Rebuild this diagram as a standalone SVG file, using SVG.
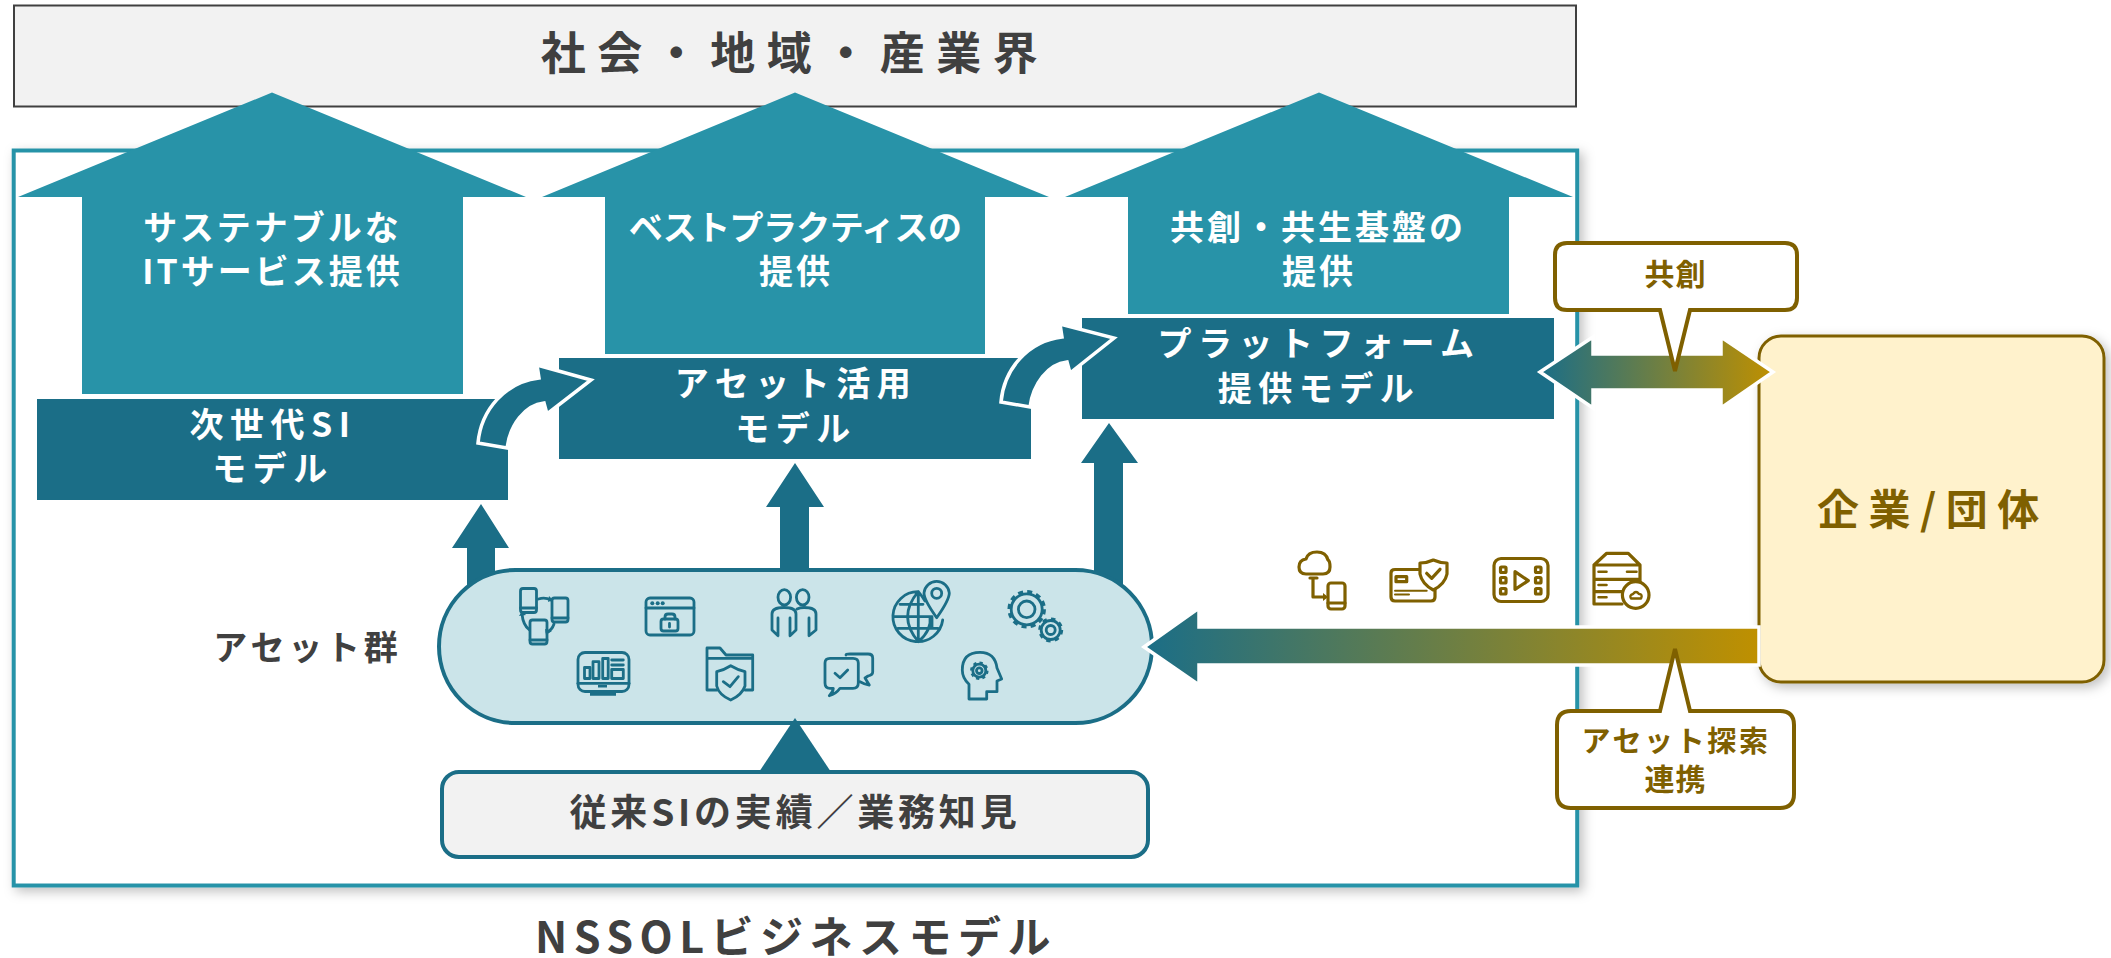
<svg xmlns="http://www.w3.org/2000/svg" width="2111" height="958" viewBox="0 0 2111 958">
<style>
text{font-family:"Noto Sans CJK JP","Noto Sans",sans-serif;font-weight:700;text-anchor:middle}
.w{fill:#fff;font-size:34px;letter-spacing:3px}
.m{fill:#fff;font-size:34px;letter-spacing:6.500px}
.d{fill:#404040}
.g{fill:#7f6000}
.lt{fill:#2893a8}
.dk{fill:#1b6e87}
.ic{fill:none;stroke:#1b6e87;stroke-width:2.800;stroke-linejoin:round;stroke-linecap:round}
.ig{fill:none;stroke:#7f6000;stroke-width:3.200;stroke-linejoin:round;stroke-linecap:round}
.fb{fill:#1b6e87;stroke:none}
.fg{fill:#7f6000;stroke:none}
</style>
<defs>
<linearGradient id="gr1" x1="0" x2="1" y1="0" y2="0"><stop offset="0" stop-color="#1b6e87"/><stop offset="1" stop-color="#bf9000"/></linearGradient>
<filter id="sh" x="-5%" y="-5%" width="110%" height="110%"><feDropShadow dx="4" dy="4" stdDeviation="6" flood-color="#000" flood-opacity=".25"/></filter>
</defs>
<g id="top-bar"><rect x="14" y="5.500" width="1562" height="101" fill="#f2f2f2" stroke="#404040" stroke-width="2"/><text class="d" x="795" y="70" style="font-size:45px;letter-spacing:11.500px">社会・地域・産業界</text></g>
<g id="frame"><rect x="13.700" y="150.500" width="1563.500" height="735" fill="#fff" stroke="#2893a8" stroke-width="4" filter="url(#sh)"/></g>
<g id="up-1"><path class="lt" d="M272 92.500L526 197H463V394H82V197H18Z"/><text class="w" x="272.500" y="240">サステナブルな</text><text class="w" x="272.500" y="284">ITサービス提供</text></g>
<g id="up-2"><path class="lt" d="M795 92.500L1049 197H985V354H605V197H542Z"/><text x="795" y="240" style="fill:#fff;font-size:34px;letter-spacing:-.6px">ベストプラクティスの</text><text class="w" x="796" y="284">提供</text></g>
<g id="up-3"><path class="lt" d="M1319 92.500L1573 197H1509V314H1128V197H1065Z"/><text class="w" x="1318" y="240">共創・共生基盤の</text><text class="w" x="1319" y="284">提供</text></g>
<g id="model-1"><rect class="dk" x="37" y="399" width="471" height="101"/><text class="m" x="273" y="437">次世代SI</text><text class="m" x="273" y="481">モデル</text></g>
<g id="model-2"><rect class="dk" x="559" y="358" width="472" height="101"/><text class="m" x="796" y="396">アセット活用</text><text class="m" x="796" y="441">モデル</text></g>
<g id="model-3"><rect class="dk" x="1082" y="318" width="472" height="101"/><text class="m" x="1319" y="356">プラットフォーム</text><text class="m" x="1319" y="401">提供モデル</text></g>
<g id="connectors">
<g id="curves" fill="#1b6e87" stroke="#fff" stroke-width="3.500">
<path d="M478 443C481 410 505 382 539 378L537 365L591 380L547 414L544 403C525 405 510 425 507 448Z"/>
<path d="M1001 402C1004 369 1028 341 1062 337L1060 324L1114 338L1070 373L1067 362C1048 364 1033 384 1030 407Z"/>
</g>
<path class="dk" d="M481 504L509 548H495V600H467V548H452Z"/>
<path class="dk" d="M795 463L824 507H809V580H780V507H766Z"/>
<path class="dk" d="M1109 423L1138 463H1123V600H1094V463H1081Z"/>
</g>
<g id="assets">
<rect x="439" y="570" width="713" height="153" rx="76.500" fill="#cbe4e9" stroke="#1b6e87" stroke-width="4"/>
<g id="icon-devices" class="ic">
<rect x="520.500" y="588.500" width="16" height="24" rx="2.500"/><path d="M520.500 608H536.500"/>
<rect x="552" y="598" width="16" height="24" rx="2.500"/><path d="M552 618H568"/>
<rect x="530" y="620" width="17" height="24" rx="2.500"/><path d="M530 640H547"/>
<path d="M538.500 599Q545 597 551 600M554 624Q552 630 547 632M529.500 630Q523 625 522 614"/>
<path class="fb" d="M549 596L553 600L548 602ZM552 631L546 635L545 629ZM519 616L522 611L526 615Z"/>
</g>
<g id="icon-browser" class="ic">
<rect x="646" y="598" width="48" height="37" rx="4"/><path d="M646 608H694"/>
<circle class="fb" cx="652.300" cy="603.300" r="2"/><circle class="fb" cx="657.700" cy="603.300" r="2"/><circle class="fb" cx="662.700" cy="603.300" r="2"/>
<rect x="661" y="619" width="17" height="12" rx="2.500"/><path d="M665 619V617Q665 614 668 614H672Q675 614 675 617V619M669.500 623.500V627"/>
</g>
<g id="icon-people" class="ic">
<ellipse cx="784.300" cy="597.300" rx="6.300" ry="7.700"/><ellipse cx="802.700" cy="597.300" rx="6.300" ry="7.700"/>
<path d="M778 635.700L772 630V614Q772 607.500 784 607.500Q796 607.500 796 614V630L790 635.700V618M778 618V635.700"/>
<path d="M797 609Q800 607.500 804 607.500Q816 607.500 816 614V630L809 635.700V618"/>
</g>
<g id="icon-globe" class="ic">
<path d="M918.300 591.700A25 25 0 1 0 942.700 620M900 604.300H923M893.500 616.700H932V628.300M898 628.300H938M918.300 591.700V641.700M918.300 591.700Q897 616.700 918.300 641.700M930 617Q932 630 918.300 641.700M918.300 591.700Q922 596 925 601"/>
<path d="M936.700 617.700Q924 600 924 593A12.700 12.700 0 0 1 949.300 593Q949.300 600 936.700 617.700Z" fill="#cbe4e9"/><circle cx="936.700" cy="593.300" r="5"/>
</g>
<g id="icon-gears" class="ic">
<circle cx="1026.700" cy="609.300" r="15.500"/><circle cx="1026.700" cy="609.300" r="8.300"/>
<circle cx="1026.700" cy="609.300" r="17.500" stroke-dasharray="5 4.160" stroke-width="3.500" stroke-linecap="butt"/>
<circle cx="1050.700" cy="630" r="9.500" fill="#cbe4e9"/><circle cx="1050.700" cy="630" r="4.500"/>
<circle cx="1050.700" cy="630" r="11" stroke-dasharray="4.320 4.320" stroke-width="3" stroke-linecap="butt"/>
</g>
<g id="icon-monitor" class="ic">
<rect x="578" y="652.500" width="51" height="39" rx="7"/><path d="M578 683.300H629"/>
<path class="fb" d="M598 685H607V687.500H598ZM590 692.500H616V695.700H590Z"/>
<rect x="584.500" y="667.500" width="5.500" height="11"/><rect x="593" y="661.700" width="6" height="16.800"/><rect x="602.700" y="658.500" width="5.500" height="20"/>
<path d="M611.700 660H623.300M611.700 665H623.300"/><rect x="611.700" y="669.500" width="11.600" height="9"/>
</g>
<g id="icon-folder" class="ic">
<path d="M717 690H707V648H720L726 655H752.700V690H745M707 658.300H752.700"/>
<path d="M730.700 665.700Q738 670 745 671.700V686Q742 695 730.700 700Q719 695 716.700 686V671.700Q724 670 730.700 665.700Z" fill="#cbe4e9"/>
<path d="M723.300 681.700L730 686.700L738.300 676.700"/>
</g>
<g id="icon-chat" class="ic">
<path d="M846 655Q846 654 850 654H868Q872.700 654 872.700 658V672Q872.700 675 868 676L865 678L869.300 685Q864 684 860 681.700"/>
<path d="M830 658.300H853Q858.300 658.300 858.300 663V683Q858.300 688.300 853 688.300H840Q836 694 829.300 695.700Q833 692 833.300 688.300H830Q825 688.300 825 683V663Q825 658.300 830 658.300Z"/>
<path d="M835 673.300L840 677.700L847.700 670"/>
</g>
<g id="icon-head" class="ic">
<path d="M969 699V684.300Q962.300 678 962.300 670Q962.300 652.300 980 652.300Q995 652.300 997 668L1001.700 679L997 681V691.700H986.700V699Z"/>
<circle cx="979.300" cy="670.700" r="6.500"/><circle cx="979.300" cy="670.700" r="2.800"/>
<circle cx="979.300" cy="670.700" r="8" stroke-dasharray="3.140 3.140" stroke-width="2.500" stroke-linecap="butt"/>
</g>
</g>
<g id="legacy"><path class="dk" d="M795 718L831 772H759Z"/><rect x="442" y="772" width="706" height="85" rx="17" fill="#f2f2f2" stroke="#1b6e87" stroke-width="4"/><text class="d" x="795" y="826" style="font-size:37px;letter-spacing:3.800px">従来SIの実績／業務知見</text></g>
<g id="asset-label"><text class="d" x="307.500" y="660" style="font-size:34px;letter-spacing:3.800px">アセット群</text></g>
<g id="org"><rect x="1759" y="336" width="345" height="346" rx="22" fill="#fff2cc" stroke="#7f6000" stroke-width="3" filter="url(#sh)"/><text class="g" x="1933" y="525" style="font-size:42px;letter-spacing:9.500px">企業/団体</text></g>
<g id="arrow-links" stroke="#fff" stroke-width="3.500">
<path fill="url(#gr1)" d="M1540 372L1593 337V354H1721V337L1773 372L1721 408V390H1593V408Z"/>
<path fill="url(#gr1)" d="M1144 647L1199 608V627H1759V665H1199V685Z"/>
</g>
<g id="callout-1"><path d="M1567 243H1785Q1797 243 1797 255V298Q1797 310 1785 310H1690L1675 371L1660 310H1567Q1555 310 1555 298V255Q1555 243 1567 243Z" fill="#fff" stroke="#7f6000" stroke-width="4"/><text class="g" x="1675.500" y="285" style="font-size:30px;letter-spacing:1px">共創</text></g>
<g id="callout-2"><path d="M1571 711H1660L1675 649L1690 711H1780Q1794 711 1794 725V794Q1794 808 1780 808H1571Q1557 808 1557 794V725Q1557 711 1571 711Z" fill="#fff" stroke="#7f6000" stroke-width="4"/><text class="g" x="1676" y="752" style="font-size:29px;letter-spacing:2.600px">アセット探索</text><text class="g" x="1675.500" y="790" style="font-size:30px;letter-spacing:1px">連携</text></g>
<g id="data-icons" class="ig">
<g id="icon-cloud">
<path d="M1306 574Q1299 574 1299 567Q1299 560 1306 559Q1308 552 1317 552Q1326 552 1328 560Q1330 561 1330 567Q1330 574 1323 574Z"/>
<path d="M1313 578V597H1325M1310 578H1317"/><path class="fg" d="M1323 593L1328 597L1323 601Z"/>
<rect x="1328" y="583" width="17" height="26" rx="3"/><path d="M1328 603H1345"/>
</g>
<g id="icon-card">
<path d="M1422 569.500H1395Q1391 569.500 1391 573V597Q1391 601 1395 601H1431Q1435 601 1435 597V586"/>
<rect x="1396" y="576.700" width="10.700" height="5"/><path d="M1395 590.700H1426.700M1395 594.500H1409" stroke-width="2"/>
<path d="M1433.300 560Q1440 563 1447 563V574Q1445 584 1433.300 590Q1422 584 1420 574V563Q1427 563 1433.300 560Z" fill="#fff"/><path d="M1426.700 573.300L1431.700 578.300L1440 569.300"/>
</g>
<g id="icon-film">
<rect x="1494" y="558.500" width="54" height="43" rx="7"/><path d="M1515 571.700L1528.300 580.700L1515 589.300Z"/>
<rect x="1500.500" y="567" width="5.500" height="5.500" rx="1"/><rect x="1500.500" y="577.500" width="5.500" height="5.500" rx="1"/><rect x="1500.500" y="588.500" width="5.500" height="5.500" rx="1"/><rect x="1535.500" y="567" width="5.500" height="5.500" rx="1"/><rect x="1535.500" y="577.500" width="5.500" height="5.500" rx="1"/><rect x="1535.500" y="588.500" width="5.500" height="5.500" rx="1"/>
</g>
<g id="icon-server">
<path d="M1594 565L1606.700 553.300H1628.300L1640 565V585M1622 604H1594V565H1640M1594 579.300H1640M1594 591.700H1625"/>
<path d="M1598.500 571.700H1606.500M1627 571.700H1636.500M1598.500 585H1606.500M1598.500 597.300H1606.500" stroke-width="2.600"/>
<circle cx="1635.700" cy="595" r="13.300" fill="#fff"/><path d="M1631 598.500H1641Q1643 594 1639 594Q1636 590 1633 594Q1629 595 1631 598.500Z" stroke-width="2.400"/>
</g>
</g>
<g id="caption"><text class="d" x="796" y="953" style="font-size:43px;letter-spacing:6.500px">NSSOLビジネスモデル</text></g>
</svg>
